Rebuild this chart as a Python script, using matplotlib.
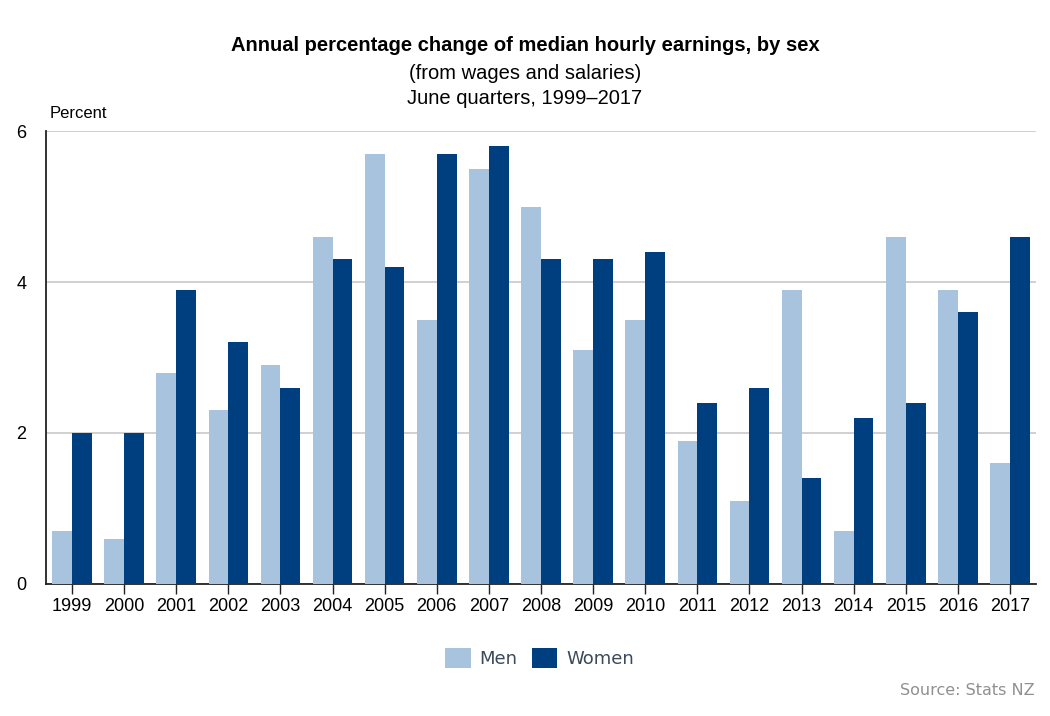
import matplotlib
matplotlib.use("Agg")
import matplotlib.pyplot as plt
import numpy as np

years = ["1999", "2000", "2001", "2002", "2003", "2004", "2005", "2006", "2007", "2008",
         "2009", "2010", "2011", "2012", "2013", "2014", "2015", "2016", "2017"]
men = [0.7, 0.6, 2.8, 2.3, 2.9, 4.6, 5.7, 3.5, 5.5, 5.0,
       3.1, 3.5, 1.9, 1.1, 3.9, 0.7, 4.6, 3.9, 1.6]
women = [2.0, 2.0, 3.9, 3.2, 2.6, 4.3, 4.2, 5.7, 5.8, 4.3,
         4.3, 4.4, 2.4, 2.6, 1.4, 2.2, 2.4, 3.6, 4.6]
yticks = [0, 2, 4, 6]

men_color = "#a7c3de"
women_color = "#003f7f"

fig = plt.figure(figsize=(10.5, 7.16), dpi=100)
ax = fig.add_axes([0.0438, 0.1844, 0.9429, 0.6326])

x = np.arange(len(years))
w = 0.38
ax.bar(x - w / 2, men, width=w, color=men_color, label="Men", zorder=3)
ax.bar(x + w / 2, women, width=w, color=women_color, label="Women", zorder=3)

ax.set_xlim(-0.5, len(years) - 0.5)
ax.set_ylim(0, 6)
ax.set_yticks(yticks)
ax.set_yticklabels([str(v) for v in yticks], family="Liberation Sans", fontsize=13)
ax.set_xticks(x)
ax.set_xticklabels(years, family="Liberation Sans", fontsize=13)
ax.tick_params(axis="y", length=0, pad=14)
ax.tick_params(axis="x", length=7, width=1, color="#222222", pad=3)

ax.yaxis.grid(True, color="#c8c8c8", linewidth=1.2, zorder=0)
for s in ["top", "right"]:
    ax.spines[s].set_visible(False)
ax.spines["left"].set_color("#222222")
ax.spines["bottom"].set_color("#222222")
ax.spines["left"].set_linewidth(1.3)
ax.spines["bottom"].set_linewidth(1.3)

fig.text(0.5, 0.937, "Annual percentage change of median hourly earnings, by sex",
         ha="center", va="center", fontsize=14.5, fontweight="bold", family="Liberation Sans")
fig.text(0.5, 0.898, "(from wages and salaries)", ha="center", va="center",
         fontsize=14.5, family="Liberation Sans")
fig.text(0.5, 0.862, "June quarters, 1999\u20132017", ha="center", va="center",
         fontsize=14.5, family="Liberation Sans")
fig.text(0.047, 0.841, "Percent", ha="left", va="center", fontsize=12, family="Liberation Sans")

leg = fig.legend(loc="center", bbox_to_anchor=(0.514, 0.081), ncol=2, frameon=False,
                 handlelength=1.4, handleheight=1.4, columnspacing=0.8,
                 handletextpad=0.5, prop={"family": "DejaVu Sans", "size": 13})
for t in leg.get_texts():
    t.set_color("#3a4a5a")

fig.text(0.985, 0.036, "Source: Stats NZ", ha="right", va="center", fontsize=11.5,
         color="#909090", family="DejaVu Sans")

fig.savefig("out.png", dpi=100, facecolor="white")
